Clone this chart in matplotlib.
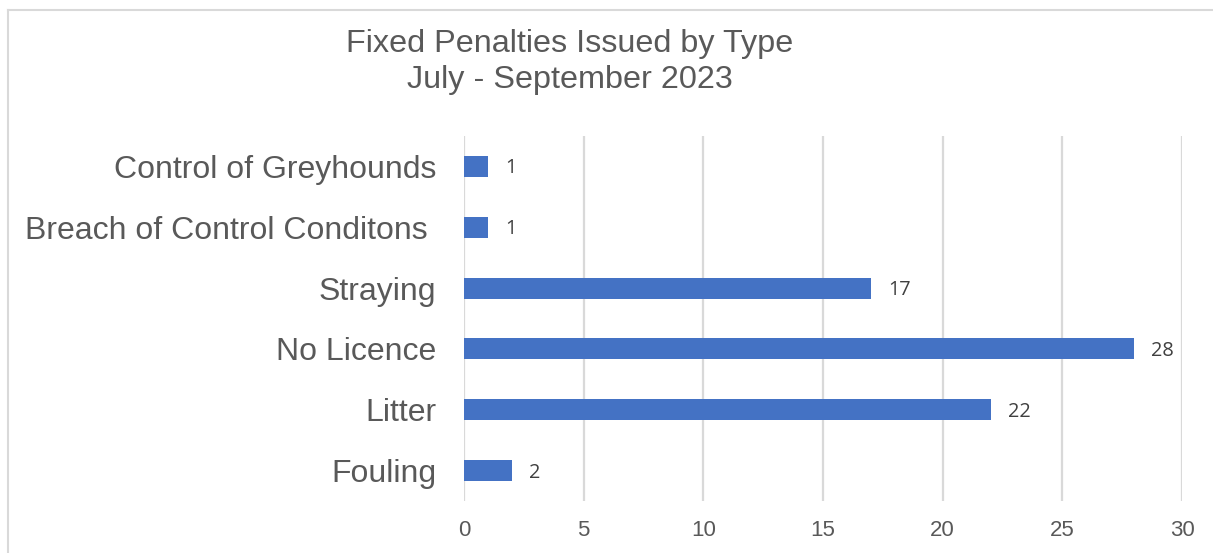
import matplotlib.pyplot as plt
from matplotlib.lines import Line2D

categories = ["Fouling", "Litter", "No Licence", "Straying",
              "Breach of Control Conditons ", "Control of Greyhounds"]
counts = [2, 22, 28, 17, 1, 1]
xticks = [0, 5, 10, 15, 20, 25, 30]
title_lines = ["Fixed Penalties Issued by Type", "July - September 2023"]

W, H = 1213, 553
fig = plt.figure(figsize=(W / 100, H / 100), dpi=100)
ax = fig.add_axes([464 / W, (H - 501) / H, (1182 - 464) / W, (501 - 136) / H])

pos = range(len(categories))
bars = ax.barh(pos, counts, height=0.345, color="#4472c4", zorder=3)

for b, v in zip(bars, counts):
    ax.annotate(str(v), (b.get_width(), b.get_y() + b.get_height() / 2),
                xytext=(17, -2), textcoords="offset pixels",
                va="center", ha="left", fontsize=14.3, color="#404040",
                family="Open Sans")

ax.set_xlim(0, 30)
ax.set_ylim(-0.5, len(categories) - 0.5)
ax.set_xticks(xticks)
ax.set_yticks(list(pos))
ax.set_yticklabels(categories)
ax.tick_params(axis="y", length=0, pad=20, labelsize=23, labelcolor="#595959")
ax.tick_params(axis="x", length=0, pad=14, labelsize=16, labelcolor="#595959")
for lbl in ax.get_xticklabels() + ax.get_yticklabels():
    lbl.set_family("Liberation Sans")
ax.grid(axis="x", color="#d9d9d9", linewidth=1.6, zorder=0)
for s in ax.spines.values():
    s.set_visible(False)

for line, base in zip(title_lines, [52, 88]):
    fig.text(570 / W, 1 - base / H, line, ha="center", va="baseline",
             fontsize=23.3, color="#595959", family="Liberation Sans")

# outer chart frame (top and left edges only fall inside the canvas)
fig.add_artist(Line2D([8 / W, 1], [1 - 10 / H, 1 - 10 / H], transform=fig.transFigure,
                      color="#d9d9d9", linewidth=1.5))
fig.add_artist(Line2D([8 / W, 8 / W], [0, 1 - 10 / H], transform=fig.transFigure,
                      color="#d9d9d9", linewidth=1.5))

fig.savefig("out.png", dpi=100, facecolor="white")
